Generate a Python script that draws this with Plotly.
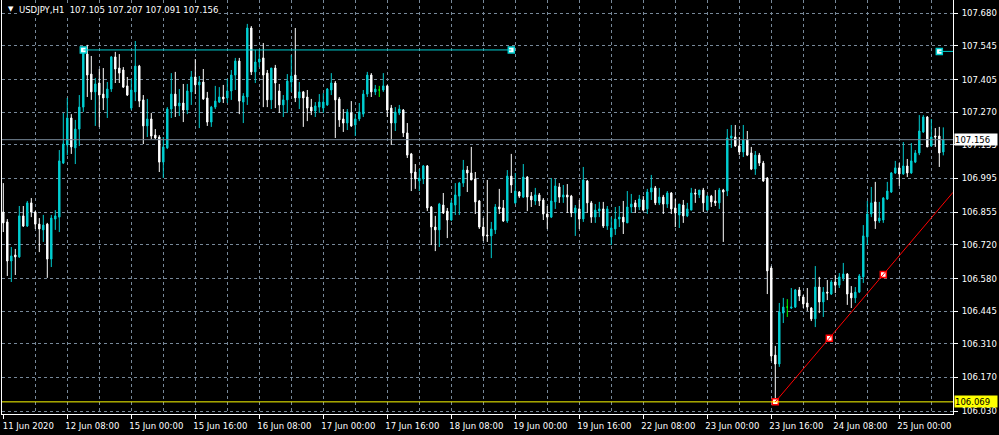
import plotly.graph_objects as go

# ---------------- data (USDJPY H1, 11 Jun 16:00 -> 25 Jun 11:00) ----------------
open_ = [106.856,106.815,106.653,106.678,106.670,106.840,106.798,106.894,106.856,106.806,
106.782,106.806,106.661,106.827,106.835,107.059,107.134,107.246,107.122,107.200,
107.291,107.511,107.428,107.354,107.391,107.345,107.329,107.366,107.499,107.453,
107.445,107.379,107.287,107.354,107.461,107.321,107.213,107.242,107.175,107.167,
107.063,107.122,107.283,107.345,107.296,107.308,107.279,107.354,107.416,107.383,
107.395,107.329,107.229,107.291,107.312,107.333,107.329,107.358,107.424,107.482,
107.312,107.333,107.619,107.437,107.478,107.495,107.432,107.321,107.453,107.358,
107.300,107.321,107.395,107.424,107.329,107.354,107.333,107.291,107.275,107.291,
107.287,107.300,107.362,107.391,107.325,107.242,107.225,107.267,107.217,107.242,
107.262,107.345,107.424,107.354,107.362,107.362,107.379,107.287,107.225,107.267,
107.279,107.184,107.097,107.022,106.985,106.993,107.047,106.877,106.794,106.782,
106.885,106.860,106.823,106.885,106.922,106.976,107.030,107.018,106.993,106.902,
106.794,106.761,106.757,106.782,106.877,106.873,106.819,107.005,106.894,106.939,
106.918,107.001,106.922,106.902,106.927,106.906,106.848,106.835,106.898,106.960,
106.918,106.927,106.922,106.852,106.869,106.827,106.985,106.894,106.835,106.860,
106.869,106.798,106.753,106.786,106.827,106.835,106.811,106.877,106.894,106.877,
106.906,106.869,106.939,106.956,106.894,106.918,106.889,106.935,106.873,106.844,
106.885,106.840,106.864,106.935,106.927,106.947,106.864,106.922,106.902,106.894,
106.947,106.943,107.163,107.167,107.130,107.105,107.155,107.101,107.034,107.092,
107.059,106.997,106.624,106.263,106.226,106.437,106.462,106.458,106.462,106.533,
106.504,106.479,106.458,106.413,106.545,106.483,106.524,106.516,106.566,106.553,
106.583,106.599,106.520,106.500,106.524,106.587,106.753,106.848,106.898,106.819,
106.823,106.910,106.939,107.018,107.039,107.014,107.047,107.018,107.063,107.101,
107.188,107.250,107.130,107.171,107.171,107.105]

high = [106.976,106.827,106.711,106.703,106.881,106.881,106.902,106.914,106.860,106.831,
106.844,106.811,106.844,106.864,107.113,107.267,107.329,107.262,107.238,107.341,
107.532,107.549,107.503,107.412,107.449,107.453,107.395,107.503,107.520,107.511,
107.457,107.416,107.408,107.565,107.466,107.341,107.325,107.267,107.200,107.175,
107.167,107.291,107.432,107.437,107.366,107.387,107.387,107.441,107.490,107.420,
107.449,107.354,107.296,107.379,107.374,107.383,107.408,107.445,107.495,107.495,
107.349,107.636,107.627,107.528,107.528,107.557,107.445,107.453,107.466,107.387,
107.341,107.428,107.507,107.619,107.395,107.358,107.362,107.325,107.312,107.345,
107.349,107.370,107.432,107.399,107.333,107.283,107.283,107.316,107.262,107.308,
107.362,107.437,107.432,107.383,107.379,107.432,107.383,107.300,107.291,107.300,
107.283,107.225,107.101,107.055,107.034,107.051,107.051,106.881,106.840,106.894,
106.935,106.873,106.906,106.976,106.981,107.072,107.047,107.126,107.022,106.906,
106.831,106.989,106.815,106.889,106.952,106.906,107.030,107.097,107.018,106.943,
107.055,107.005,106.939,106.956,106.935,106.914,106.881,106.997,106.993,106.976,
106.968,106.972,106.927,106.885,106.906,107.043,106.989,106.902,106.889,106.898,
106.898,106.881,106.835,106.877,106.881,106.902,106.943,106.931,106.906,106.927,
106.922,106.952,107.010,106.964,106.956,106.927,106.943,106.939,106.910,106.889,
106.906,106.894,106.956,106.952,106.947,106.956,106.927,106.927,106.947,106.956,
106.952,107.200,107.217,107.217,107.167,107.217,107.192,107.126,107.109,107.101,
107.068,107.001,106.632,106.301,106.479,106.500,106.495,106.541,106.537,106.545,
106.512,106.541,106.462,106.632,106.587,106.545,106.574,106.574,106.595,106.603,
106.645,106.603,106.549,106.545,106.599,106.802,106.902,106.960,106.981,106.898,
106.918,106.981,107.022,107.068,107.059,107.146,107.076,107.142,107.113,107.258,
107.258,107.254,107.242,107.204,107.209,107.207]

low = [106.773,106.591,106.566,106.595,106.666,106.794,106.794,106.835,106.786,106.690,
106.732,106.583,106.628,106.782,106.773,107.055,107.092,107.097,107.055,107.130,
107.271,107.333,107.321,107.213,107.209,107.279,107.246,107.354,107.391,107.391,
107.370,107.337,107.279,107.316,107.291,107.138,107.167,107.159,107.159,107.022,
106.997,107.117,107.246,107.250,107.254,107.229,107.262,107.300,107.345,107.204,
107.321,107.213,107.209,107.283,107.308,107.308,107.308,107.321,107.362,107.262,
107.225,107.300,107.424,107.391,107.457,107.291,107.291,107.283,107.287,107.267,
107.250,107.267,107.354,107.312,107.283,107.209,107.233,107.258,107.250,107.267,
107.267,107.296,107.341,107.163,107.209,107.188,107.196,107.209,107.171,107.233,
107.250,107.333,107.333,107.341,107.333,107.354,107.250,107.134,107.192,107.258,
107.167,107.080,106.943,106.952,106.943,106.972,106.860,106.719,106.694,106.711,
106.848,106.748,106.819,106.844,106.844,106.960,106.939,106.989,106.848,106.786,
106.736,106.732,106.665,106.765,106.848,106.815,106.811,106.935,106.889,106.914,
106.914,106.860,106.877,106.885,106.881,106.823,106.786,106.831,106.869,106.894,
106.894,106.852,106.835,106.757,106.786,106.815,106.852,106.811,106.811,106.835,
106.790,106.782,106.719,106.761,106.794,106.765,106.811,106.852,106.852,106.864,
106.860,106.848,106.906,106.885,106.885,106.848,106.873,106.848,106.794,106.790,
106.811,106.835,106.864,106.894,106.914,106.856,106.864,106.877,106.881,106.869,
106.732,106.922,107.122,107.126,107.092,107.084,107.088,107.030,107.010,107.047,
106.981,106.516,106.238,106.069,106.214,106.396,106.421,106.454,106.458,106.487,
106.458,106.446,106.404,106.379,106.437,106.421,106.491,106.512,106.520,106.541,
106.570,106.471,106.458,106.479,106.520,106.562,106.719,106.835,106.786,106.811,
106.811,106.906,106.935,107.014,106.964,107.010,107.001,107.014,107.059,107.092,
107.184,107.126,107.126,107.126,107.043,107.091]

close = [106.811,106.653,106.674,106.670,106.840,106.798,106.894,106.856,106.806,106.786,
106.802,106.661,106.831,106.840,107.068,107.138,107.246,107.126,107.200,107.291,
107.528,107.424,107.354,107.387,107.341,107.329,107.366,107.499,107.449,107.432,
107.374,107.341,107.362,107.461,107.316,107.213,107.242,107.171,107.163,107.063,
107.126,107.283,107.345,107.296,107.308,107.279,107.358,107.416,107.383,107.395,
107.325,107.229,107.291,107.316,107.333,107.325,107.358,107.424,107.482,107.316,
107.337,107.619,107.437,107.478,107.490,107.424,107.321,107.453,107.391,107.300,
107.321,107.399,107.420,107.329,107.354,107.329,107.287,107.275,107.296,107.312,
107.312,107.366,107.391,107.321,107.238,107.225,107.271,107.213,107.242,107.271,
107.345,107.424,107.354,107.366,107.362,107.379,107.279,107.225,107.271,107.283,
107.184,107.092,107.018,106.993,106.997,107.047,106.873,106.794,106.782,106.889,
106.852,106.823,106.894,106.927,106.976,107.030,107.018,106.989,106.898,106.794,
106.757,106.757,106.786,106.877,106.869,106.819,107.005,106.968,106.943,106.922,
107.001,106.918,106.906,106.927,106.902,106.848,106.835,106.902,106.964,106.918,
106.927,106.918,106.852,106.873,106.827,106.989,106.894,106.835,106.864,106.869,
106.798,106.869,106.790,106.827,106.835,106.815,106.877,106.889,106.877,106.910,
106.864,106.939,106.956,106.894,106.918,106.889,106.935,106.869,106.852,106.889,
106.840,106.869,106.935,106.931,106.947,106.894,106.922,106.898,106.894,106.947,
106.939,107.163,107.171,107.130,107.105,107.155,107.092,107.034,107.092,107.059,
106.985,106.612,106.259,106.226,106.442,106.462,106.462,106.462,106.533,106.508,
106.475,106.462,106.413,106.545,106.483,106.524,106.520,106.566,106.553,106.587,
106.599,106.516,106.500,106.524,106.591,106.757,106.848,106.894,106.819,106.831,
106.914,106.943,107.018,107.039,107.014,107.047,107.018,107.068,107.101,107.192,
107.250,107.126,107.167,107.167,107.101,107.156]

bars = list(range(len(close)))

x_tick_bars = [0, 16, 32, 48, 64, 80, 96, 112, 128, 144, 160, 176, 192, 208, 224]
x_tick_labels = ["11 Jun 2020", "12 Jun 08:00", "15 Jun 00:00", "15 Jun 16:00",
                 "16 Jun 08:00", "17 Jun 00:00", "17 Jun 16:00", "18 Jun 08:00",
                 "19 Jun 00:00", "19 Jun 16:00", "22 Jun 08:00", "23 Jun 00:00",
                 "23 Jun 16:00", "24 Jun 08:00", "25 Jun 00:00"]
grid_bars = list(range(8, 236, 8))

y_ticks = [106.030, 106.170, 106.310, 106.445, 106.580, 106.720, 106.855,
           106.995, 107.135, 107.270, 107.405, 107.545, 107.680]
y_range = [106.0187, 107.7351]
x_range = [-0.325, 237.425]

symbol = "USDJPY,H1"
last_bid = 107.156
support_level = 106.069
resistance_level = 107.528
resistance_bars = [20, 127]
resistance2_level = 107.522
resistance2_bar = 234
trend_bars = [193, 220]
trend_prices = [106.069, 106.597]

# ---------------- styles ----------------
BULL = "#00ced1"
BEAR = "#ffffff"
DOJI = "#00ff00"
GRID = "#778899"
FONT = "DejaVu Sans"

fig = go.Figure()

def subset(cond):
    idx = [i for i in bars if cond(open_[i], close[i])]
    return (idx, [open_[i] for i in idx], [high[i] for i in idx],
            [low[i] for i in idx], [close[i] for i in idx])

for cond, col in [(lambda o, c: c > o, BULL), (lambda o, c: c < o, BEAR), (lambda o, c: c == o, DOJI)]:
    xi, o, h, l, c = subset(cond)
    fig.add_trace(go.Candlestick(
        x=xi, open=o, high=h, low=l, close=c,
        increasing=dict(line=dict(color=col, width=1), fillcolor=col),
        decreasing=dict(line=dict(color=col, width=1), fillcolor=col),
        whiskerwidth=0, showlegend=False, hoverinfo="skip"))

# horizontal lines
fig.add_shape(type="line", xref="paper", x0=0, x1=1, y0=last_bid, y1=last_bid,
              line=dict(color=GRID, width=1))
fig.add_shape(type="line", xref="paper", x0=0, x1=1, y0=support_level, y1=support_level,
              line=dict(color="#ffff00", width=1))
fig.add_shape(type="line", x0=resistance_bars[0], x1=resistance_bars[1],
              y0=resistance_level, y1=resistance_level, line=dict(color=BULL, width=1))
fig.add_shape(type="line", x0=resistance2_bar, x1=x_range[1],
              y0=resistance2_level, y1=resistance2_level, line=dict(color=BULL, width=1))

# trend line (ray)
slope = (trend_prices[1] - trend_prices[0]) / (trend_bars[1] - trend_bars[0])
end_price = trend_prices[0] + slope * (x_range[1] - trend_bars[0])
fig.add_shape(type="line", x0=trend_bars[0], x1=x_range[1], y0=trend_prices[0], y1=end_price,
              line=dict(color="#ff0000", width=1))

mid_bar = (trend_bars[0] + trend_bars[1]) / 2
mid_price = (trend_prices[0] + trend_prices[1]) / 2
fig.add_trace(go.Scatter(x=[trend_bars[0], mid_bar, trend_bars[1]],
                         y=[trend_prices[0], mid_price, trend_prices[1]],
                         mode="markers", hoverinfo="skip", showlegend=False,
                         marker=dict(symbol="square", size=6, color="white",
                                     line=dict(color="#ff0000", width=1.5))))
fig.add_trace(go.Scatter(x=[resistance_bars[0], resistance_bars[1], resistance2_bar],
                         y=[resistance_level, resistance_level, resistance2_level],
                         mode="markers", hoverinfo="skip", showlegend=False,
                         marker=dict(symbol="square", size=6, color="white",
                                     line=dict(color=BULL, width=1.5))))

# price boxes on the axis
for price, bg in [(last_bid, "#ffffff"), (support_level, "#ffff00")]:
    fig.add_annotation(xref="paper", x=1, xanchor="left", xshift=1, yref="y", y=price,
                       yanchor="middle", text=f"{price:.3f}", showarrow=False,
                       font=dict(family=FONT, size=8.5, color="black"),
                       bgcolor=bg, width=42, height=11, align="left", borderpad=0)

# header text
fig.add_annotation(xref="paper", yref="paper", x=0, y=1, xanchor="left", yanchor="top",
                   xshift=4, yshift=-3, text="▼", showarrow=False,
                   font=dict(family=FONT, size=7, color="white"))
fig.add_annotation(xref="paper", yref="paper", x=0, y=1, xanchor="left", yanchor="top",
                   xshift=16, yshift=-4,
                   text=f"{symbol}  {open_[-1]:.3f} {high[-1]:.3f} {low[-1]:.3f} {close[-1]:.3f}",
                   showarrow=False, bgcolor="black", borderpad=0,
                   font=dict(family=FONT, size=8.5, color="white"))

fig.update_layout(
    width=999, height=435,
    margin=dict(l=2, r=46, t=0, b=21),
    paper_bgcolor="black", plot_bgcolor="black",
    boxgap=0.5,
    font=dict(family=FONT, size=8.5, color="white"),
    showlegend=False,
    xaxis=dict(range=x_range, rangeslider=dict(visible=False),
               tickmode="array", tickvals=x_tick_bars, ticktext=x_tick_labels,
               ticks="outside", ticklen=4, tickcolor="white", tickwidth=1,
               ticklabelshift=25, ticklabelstandoff=0,
               showgrid=False, zeroline=False,
               showline=True, linecolor="white", linewidth=1,
               tickfont=dict(family=FONT, size=8.5, color="white"),
               minor=dict(tickmode="array", tickvals=grid_bars, showgrid=True,
                          gridcolor=GRID, griddash="3px,3px", gridwidth=1, ticks="")),
    yaxis=dict(range=y_range, side="right", tickmode="array", tickvals=y_ticks,
               ticktext=[f"{v:.3f}" for v in y_ticks],
               ticks="outside", ticklen=4, tickcolor="white", tickwidth=1,
               showgrid=True, gridcolor=GRID, griddash="3px,3px", gridwidth=1,
               zeroline=False, showline=True, linecolor="white", linewidth=1, mirror=True,
               ticklabelstandoff=2,
               tickfont=dict(family=FONT, size=8.5, color="white")),
)

fig.write_html("out.html", config={"displayModeBar": False},
               post_script="document.body.style.margin='0';document.body.style.background='black';")
